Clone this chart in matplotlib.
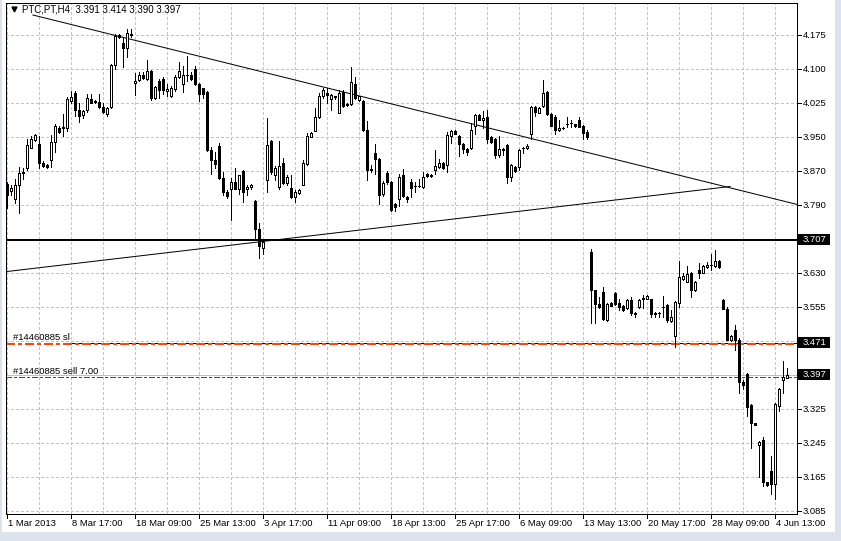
import matplotlib
matplotlib.use('Agg')
import matplotlib.pyplot as plt
from matplotlib import transforms
from matplotlib.patches import Rectangle

# ---------------- data (PTC,PT H4) ----------------
opens = [3.835,3.818,3.800,3.833,3.860,3.870,3.918,3.935,3.926,3.882,3.878,3.889,3.930,3.963,3.965,3.963,4.025,4.042,4.005,3.992,
         4.003,4.029,4.024,4.022,4.011,3.994,4.011,4.108,4.176,4.158,4.147,4.179,4.065,4.073,4.085,4.075,4.093,4.031,4.070,4.074,
         4.047,4.036,4.051,4.080,4.064,4.085,4.084,4.098,4.064,4.054,4.046,3.912,3.889,3.922,3.848,3.816,3.822,3.839,3.822,3.864,
         3.822,3.828,3.796,3.731,3.688,3.843,3.933,3.856,3.827,3.883,3.837,3.825,3.804,3.813,3.833,3.881,3.943,3.956,3.987,4.036,
         4.044,4.030,4.033,3.998,4.046,4.017,4.017,4.063,4.027,4.025,3.959,3.868,3.905,3.891,3.811,3.860,3.839,3.789,3.799,3.855,
         3.805,3.839,3.830,3.829,3.828,3.857,3.855,3.867,3.874,3.882,3.878,3.944,3.955,3.945,3.927,3.914,3.917,3.967,3.992,3.981,
         3.987,3.942,3.938,3.900,3.915,3.923,3.851,3.874,3.874,3.917,3.916,3.948,4.011,3.998,4.012,4.045,3.995,3.989,3.957,3.963,
         3.972,3.974,3.972,3.980,3.968,3.953,3.678,3.591,3.559,3.586,3.523,3.561,3.584,3.563,3.555,3.550,3.568,3.540,3.553,3.570,
         3.572,3.570,3.539,3.540,3.553,3.557,3.521,3.486,3.562,3.616,3.611,3.630,3.592,3.638,3.631,3.644,3.649,3.647,3.659,3.569,
         3.547,3.478,3.500,3.477,3.381,3.400,3.329,3.286,3.236,3.247,3.151,3.177,3.148,3.327,3.386,3.391]
highs = [3.840,3.832,3.847,3.874,3.870,3.938,3.944,3.949,3.944,3.887,3.880,3.946,3.971,3.967,3.994,4.033,4.047,4.047,4.021,4.005,
         4.040,4.040,4.026,4.040,4.019,4.011,4.110,4.178,4.178,4.170,4.189,4.189,4.088,4.091,4.090,4.119,4.096,4.060,4.075,4.080,
         4.063,4.059,4.084,4.115,4.105,4.128,4.090,4.105,4.066,4.055,4.047,3.920,3.908,3.928,3.862,3.820,3.848,3.870,3.856,3.866,
         3.833,3.835,3.797,3.746,3.704,3.986,3.935,3.876,3.932,3.895,3.854,3.856,3.820,3.822,3.889,3.952,3.953,4.009,4.044,4.054,
         4.055,4.040,4.037,4.049,4.049,4.019,4.102,4.079,4.037,4.027,3.978,3.878,3.927,3.895,3.842,3.865,3.841,3.791,3.857,3.868,
         3.807,3.845,3.839,3.847,3.863,3.860,3.858,3.913,3.891,3.884,3.953,3.959,3.957,3.947,3.929,3.916,3.975,3.994,3.995,4.002,
         4.003,3.944,3.940,3.945,3.916,3.925,3.880,3.876,3.915,3.920,3.925,4.014,4.014,4.011,4.073,4.047,3.997,3.992,3.980,3.964,
         3.989,3.980,3.973,3.989,3.970,3.957,3.686,3.592,3.575,3.599,3.561,3.564,3.586,3.571,3.558,3.570,3.575,3.542,3.570,3.580,
         3.580,3.572,3.541,3.542,3.578,3.560,3.546,3.567,3.657,3.630,3.647,3.632,3.613,3.653,3.649,3.655,3.674,3.684,3.661,3.572,
         3.552,3.488,3.511,3.481,3.385,3.401,3.331,3.288,3.246,3.254,3.152,3.212,3.332,3.367,3.429,3.414]
lows = [3.780,3.810,3.790,3.768,3.846,3.866,3.916,3.934,3.870,3.873,3.871,3.874,3.907,3.951,3.944,3.955,4.021,3.990,3.977,3.985,
        4.000,4.019,4.019,4.008,3.998,3.990,4.008,4.098,4.168,4.102,4.125,4.172,4.039,4.071,4.075,4.073,4.026,4.029,4.031,4.040,
        4.036,4.033,4.047,4.078,4.046,4.070,4.072,4.061,4.024,4.032,3.910,3.858,3.870,3.847,3.810,3.802,3.752,3.822,3.812,3.793,
        3.810,3.822,3.708,3.665,3.673,3.817,3.858,3.843,3.823,3.835,3.833,3.803,3.794,3.811,3.831,3.879,3.941,3.955,3.986,4.032,
        4.021,4.005,4.030,3.996,4.011,4.013,4.016,4.030,4.025,3.955,3.843,3.863,3.857,3.788,3.808,3.835,3.772,3.772,3.785,3.804,
        3.793,3.805,3.816,3.827,3.826,3.851,3.851,3.857,3.870,3.868,3.863,3.928,3.948,3.899,3.905,3.901,3.915,3.948,3.980,3.963,
        3.928,3.928,3.894,3.897,3.902,3.836,3.841,3.862,3.867,3.905,3.914,3.938,3.991,3.996,4.010,3.993,3.967,3.948,3.955,3.960,
        3.966,3.965,3.966,3.964,3.938,3.938,3.517,3.517,3.551,3.523,3.520,3.554,3.557,3.545,3.543,3.547,3.535,3.530,3.550,3.550,
        3.570,3.529,3.529,3.529,3.529,3.519,3.519,3.460,3.553,3.614,3.609,3.576,3.590,3.618,3.630,3.642,3.638,3.645,3.641,3.547,
        3.477,3.475,3.455,3.355,3.365,3.304,3.230,3.282,3.164,3.143,3.143,3.125,3.112,3.314,3.355,3.390]
closes = [3.810,3.826,3.833,3.859,3.863,3.924,3.938,3.947,3.882,3.875,3.873,3.930,3.967,3.954,3.963,4.029,4.034,4.005,3.990,4.001,
          4.031,4.021,4.022,4.011,4.000,4.008,4.106,4.173,4.170,4.145,4.181,4.175,4.071,4.083,4.077,4.093,4.031,4.056,4.050,4.050,
          4.051,4.055,4.080,4.094,4.084,4.084,4.074,4.064,4.041,4.041,3.912,3.889,3.881,3.848,3.817,3.806,3.840,3.823,3.854,3.817,
          3.827,3.833,3.731,3.692,3.701,3.924,3.861,3.871,3.875,3.837,3.850,3.804,3.816,3.820,3.883,3.945,3.951,3.987,4.036,4.049,
          4.038,4.038,4.035,4.043,4.013,4.015,4.069,4.032,4.035,3.958,3.867,3.867,3.891,3.809,3.836,3.839,3.775,3.782,3.851,3.806,
          3.801,3.826,3.829,3.830,3.851,3.853,3.853,3.876,3.882,3.870,3.947,3.955,3.950,3.927,3.914,3.907,3.958,3.992,3.982,3.986,
          3.938,3.930,3.900,3.915,3.913,3.851,3.879,3.865,3.913,3.918,3.922,4.011,3.999,4.009,4.043,3.995,3.968,3.959,3.963,3.962,
          3.973,3.974,3.968,3.966,3.951,3.942,3.591,3.559,3.553,3.525,3.559,3.556,3.559,3.552,3.545,3.568,3.538,3.536,3.568,3.573,
          3.578,3.536,3.536,3.539,3.553,3.523,3.529,3.565,3.621,3.624,3.628,3.592,3.611,3.630,3.647,3.649,3.650,3.658,3.644,3.549,
          3.478,3.486,3.477,3.381,3.375,3.323,3.286,3.283,3.244,3.151,3.145,3.148,3.331,3.365,3.392,3.397]

date_labels = ['1 Mar 2013', '8 Mar 17:00', '18 Mar 09:00', '25 Mar 13:00', '3 Apr 17:00',
               '11 Apr 09:00', '18 Apr 13:00', '25 Apr 17:00', '6 May 09:00', '13 May 13:00',
               '20 May 17:00', '28 May 09:00', '4 Jun 13:00']
price_labels = ['3.085', '3.165', '3.245', '3.325', '3.400', '3.480', '3.555', '3.630',
                '3.710', '3.790', '3.870', '3.950', '4.025', '4.100', '4.175']
price_grid_lo, price_grid_hi = 3.085, 4.175

hline_level = 3.707        # black horizontal line
sl_level = 3.471           # stop loss
order_level = 3.393        # sell order open
bid_level = 3.397          # current bid
trend_down = ([6.4, 197.4], [4.2215, 3.7877])
trend_up = ([-0.08, 180.7], [3.634, 3.8287])
title = 'PTC,PT,H4  3.391 3.414 3.390 3.397'

# ---------------- figure ----------------
W, H = 841, 541
fig = plt.figure(figsize=(W / 100, H / 100), dpi=100)
fig.patch.set_facecolor('white')
Lp, Rp, Tp, Bp = 6, 797, 3, 514
ax = fig.add_axes([Lp / W, (H - Bp) / H, (Rp - Lp) / W, (Bp - Tp) / H])
ax.set_facecolor('white')
FONT = 'Liberation Sans'
FS = 6.8
px = 0.72  # 1 pixel in points

n = len(opens)
xs = list(range(n))
ax.set_xlim(-0.325, 197.425)
ax.set_ylim(3.0786, 4.249)

# grid
GRID = '#c4c4c4'
GRID_LS = (0, (2.2, 2.2))
nsteps = len(price_labels) - 1
grid_prices = [price_grid_lo + k * (price_grid_hi - price_grid_lo) / nsteps for k in range(nsteps + 1)]
for gp in grid_prices:
    ax.axhline(gp, color=GRID, lw=px, ls=GRID_LS, zorder=0, antialiased=False)
for gx in range(0, 200, 8):
    ax.axvline(gx, color=GRID, lw=px, ls=GRID_LS, zorder=0, antialiased=False)

# bid line, order lines
ax.axhline(bid_level, color='#c0c0c0', lw=px, zorder=1, antialiased=False)
ax.axhline(order_level, color='#008000', lw=px, ls=(0, (5.8, 2.9, 2.2, 2.9)), zorder=1, antialiased=False)
xr = ax.get_xlim()
ax.plot([(70 - 7.3) / 4, xr[1]], [sl_level, sl_level], color='black', lw=px, zorder=1, antialiased=False)
ax.axhline(sl_level - 0.0025, color='#ff4500', lw=1.4, ls=(0, (4.2, 2.0, 1.6, 2.0)), zorder=1, antialiased=False)
ax.axhline(hline_level, color='black', lw=1.44, zorder=1, antialiased=False)

# trend lines
ax.plot(trend_down[0], trend_down[1], color='black', lw=px, zorder=1)
ax.plot(trend_up[0], trend_up[1], color='black', lw=px, zorder=1)

# candles
ax.vlines(xs, lows, highs, color='black', lw=px, zorder=2, antialiased=False)
for i in range(n):
    o, c = opens[i], closes[i]
    bottom = min(o, c)
    h = max(abs(c - o), 0.0005)
    face = 'white' if c >= o else 'black'
    ax.add_patch(Rectangle((i - 0.25, bottom), 0.5, h, facecolor=face, edgecolor='black',
                           lw=px, zorder=3, antialiased=False))

# spines
for s in ax.spines.values():
    s.set_color('black')
    s.set_linewidth(px)
ax.set_xticks([])
ax.set_yticks([])

# x tick marks and labels
bx = transforms.blended_transform_factory(ax.transData, ax.transAxes)
hpx = Bp - Tp
for k, lab in enumerate(date_labels):
    xi = 16 * k
    ax.plot([xi, xi], [0, -4 / hpx], color='black', lw=px, transform=bx, clip_on=False, antialiased=False)
    ax.text(xi + 0.2, -9.5 / hpx, lab, transform=bx, ha='left', va='center', fontsize=FS,
            family=FONT, color='black', clip_on=False)

# y tick marks and labels
by = transforms.blended_transform_factory(ax.transAxes, ax.transData)
wpx = Rp - Lp
for gp, lab in zip(grid_prices, price_labels):
    ax.plot([1, 1 + 4 / wpx], [gp, gp], color='black', lw=px, transform=by, clip_on=False, antialiased=False)
    ax.text(1 + 6 / wpx, gp, lab, transform=by, ha='left', va='center', fontsize=FS, family=FONT,
            color='black', clip_on=False)

# price tags
ppx = (4.249 - 3.0786) / hpx
for lvl in [hline_level, sl_level, bid_level]:
    ax.add_patch(Rectangle((1 + 1 / wpx, lvl - 5.5 * ppx), 32 / wpx, 11 * ppx, transform=by,
                           facecolor='black', edgecolor='none', clip_on=False, zorder=5))
    ax.text(1 + 6 / wpx, lvl, f'{lvl:.3f}', transform=by, ha='left', va='center', fontsize=FS,
            family=FONT, color='white', clip_on=False, zorder=6)

# title
ax.text(15.5 / wpx, 1 - 6.3 / hpx, title, transform=ax.transAxes, ha='left', va='center',
        fontsize=7.0, family=FONT, color='black')
ax.plot([7.5 / wpx], [1 - 6 / hpx], marker='v', markersize=3.5, color='black',
        transform=ax.transAxes, clip_on=False)

# order labels
ax.text(7.3 / wpx, sl_level + 5 * ppx, '#14460885 sl', transform=by, ha='left', va='center',
        fontsize=FS, family=FONT, color='black')
ax.text(7.3 / wpx, bid_level + 3.5 * ppx, '#14460885 sell 7.00', transform=by, ha='left', va='center',
        fontsize=FS, family=FONT, color='black')

# window border
border = '#dce3ed'
fig.patches.append(Rectangle((0, 0), 1, 9 / H, transform=fig.transFigure, facecolor=border, edgecolor='none'))
fig.patches.append(Rectangle((835 / W, 0), 6 / W, 1, transform=fig.transFigure, facecolor=border, edgecolor='none'))
fig.patches.append(Rectangle((0, 0), 2 / W, 1, transform=fig.transFigure, facecolor=border, edgecolor='none'))

fig.savefig('out.png', dpi=100, facecolor=fig.get_facecolor())
